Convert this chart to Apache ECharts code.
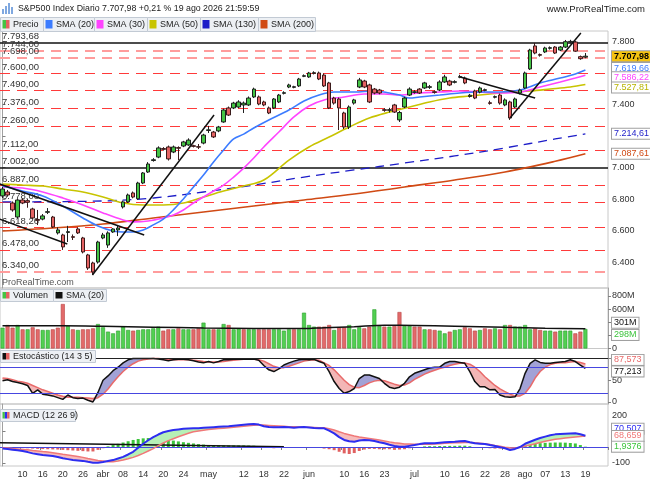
<!DOCTYPE html>
<html><head><meta charset="utf-8">
<script src="https://cdn.jsdelivr.net/npm/echarts@6/dist/echarts.min.js"></script>
<style>html,body{margin:0;padding:0;background:#fff}#c{width:650px;height:483px}</style>
</head><body><div id="c"></div>
<script>
// ---------- DATA ----------
const dates = ['03-04','03-05','03-06','03-09','03-10','03-11','03-12','03-13','03-16','03-17','03-18','03-19','03-20','03-23','03-24','03-25','03-26','03-27','03-30','03-31',
'04-01','04-02','04-06','04-07','04-08','04-09','04-10','04-13','04-14','04-15','04-16','04-17','04-20','04-21','04-22','04-23','04-24','04-27','04-28','04-29','04-30',
'05-01','05-04','05-05','05-06','05-07','05-08','05-11','05-12','05-13','05-14','05-15','05-18','05-19','05-20','05-21','05-22','05-26','05-27','05-28','05-29',
'06-01','06-02','06-03','06-04','06-05','06-08','06-09','06-10','06-11','06-12','06-15','06-16','06-17','06-18','06-22','06-23','06-24','06-25','06-26','06-29','06-30',
'07-01','07-02','07-06','07-07','07-08','07-09','07-10','07-13','07-14','07-15','07-16','07-17','07-20','07-21','07-22','07-23','07-24','07-27','07-28','07-29','07-30','07-31',
'08-03','08-04','08-05','08-06','08-07','08-10','08-11','08-12','08-13','08-14','08-17','08-18','08-19'];
const padDates = ['08-20','08-21','08-24','08-25'];
const xTickDates = ['03-10','03-16','03-20','03-26','04-01','04-08','04-14','04-20','04-24','05-01','05-12','05-18','05-22','06-01','06-10','06-16','06-23','07-01','07-10','07-16','07-22','07-28','08-03','08-07','08-13','08-19'];
const xTickLabels = ['10','16','20','26','abr','08','14','20','24','may','12','18','22','jun','10','16','23','jul','10','16','22','28','ago','07','13','19'];

const opens = [6820,6845,6775,6686,6794,6790,6737,6670,6673,6716, 6686,6585,6572,6588,6561,6610,6553,6445,6394,6400,
6553,6508,6591,6604,6750,6782,6839,6802,6902,6972, 7045,7067,7121,7131,7099,7127,7137,7144,7139,7133,
7156,7236,7226,7233,7290,7379,7379,7385,7398,7398, 7449,7449,7417,7379,7379,7417,7472,7512,7510,7519,
7580,7576,7599,7601,7588,7538,7442,7436,7347,7258, 7410,7512,7550,7525,7499,7493,7368,7364,7398,7303,
7385,7461,7478,7499,7506,7510,7482,7493,7544,7550, 7542,7574,7569,7452,7487,7480,7491,7412,7447,7461,
7398,7417,7385,7474,7506,7627,7773,7718,7735,7758, 7766,7747,7766,7798,7798,7705,7702];
const highs = [6877,6858,6785,6800,6805,6800,6745,6731,6705,6743, 6693,6620,6580,6630,6575,6620,6560,6452,6402,6535,
6585,6595,6615,6635,6790,6835,6848,6910,6972,7035, 7060,7135,7130,7140,7140,7135,7170,7186,7145,7150,
7215,7265,7233,7265,7375,7388,7418,7428,7420,7452, 7508,7458,7425,7388,7442,7468,7485,7533,7520,7570,
7592,7608,7612,7610,7598,7545,7450,7445,7355,7395, 7437,7570,7558,7533,7506,7500,7378,7380,7405,7360,
7450,7510,7492,7505,7545,7525,7490,7555,7590,7558, 7555,7590,7578,7468,7495,7515,7502,7425,7458,7470,
7440,7425,7445,7502,7610,7755,7792,7725,7768,7770, 7772,7772,7811,7812,7805,7712,7728];
const lows = [6807,6815,6720,6678,6768,6745,6672,6635,6665,6705, 6616,6575,6477,6527,6540,6578,6455,6350,6318,6390,
6545,6490,6585,6565,6740,6775,6805,6795,6895,6966, 7038,7060,7108,7045,7092,7048,7130,7138,7128,7118,
7148,7220,7188,7225,7285,7328,7372,7378,7347,7392, 7442,7396,7390,7340,7372,7410,7465,7505,7504,7512,
7575,7570,7592,7556,7512,7372,7400,7239,7245,7245, 7400,7505,7505,7410,7466,7466,7355,7350,7347,7290,
7378,7455,7470,7468,7500,7500,7470,7486,7538,7518, 7535,7568,7530,7445,7435,7472,7485,7400,7440,7400,
7390,7303,7378,7465,7500,7620,7720,7705,7728,7750, 7722,7740,7760,7790,7735,7685,7695];
const closes = [6864,6826,6731,6794,6775,6780,6680,6665,6693,6720, 6623,6604,6496,6593,6557,6585,6464,6362,6337,6527,
6572,6585,6610,6616,6782,6826,6813,6902,6966,7023, 7050,7125,7116,7055,7131,7123,7163,7175,7135,7130,
7207,7240,7195,7258,7366,7334,7410,7417,7410,7442, 7499,7404,7398,7347,7436,7461,7476,7525,7514,7563,
7584,7601,7603,7563,7519,7379,7410,7379,7258,7385, 7430,7557,7512,7417,7474,7474,7364,7368,7353,7350,
7442,7499,7482,7474,7538,7514,7478,7544,7576,7525, 7546,7578,7538,7460,7442,7506,7495,7408,7451,7410,
7430,7315,7436,7493,7601,7747,7728,7714,7760,7762, 7728,7766,7800,7802,7740,7692,7707.98];

const volumes = [317,358,317,358,292,292,323,292,282,282, 292,317,678,343,292,282,292,292,307,373,
323,257,231,272,333,282,272,282,292,292, 307,333,272,292,292,307,292,292,292,307,
394,292,292,292,373,358,292,307,292,292, 292,292,292,292,292,292,272,292,292,292,
546,358,333,333,333,358,282,323,323,358, 292,323,307,333,597,343,333,333,343,556,
343,343,333,333,292,292,282,272,231,257, 282,292,323,307,272,282,307,292,307,292,
358,358,333,333,358,292,307,282,272,272, 257,272,272,272,231,257,298];
const volSma20 = [[0,345],[12,345],[20,338],[30,325],[40,312],[50,305],[60,303],[64,318],[70,333],[76,355],[82,352],[90,340],[100,322],[108,310],[116,301]];

const sma20 = [[0,6883],[4,6851],[8,6820],[12,6756],[16,6680],[19,6629],[22,6597],[24,6591],[26,6591],[28,6604],[30,6636],[32,6673],[34,6731],[36,6801],[38,6877],[40,6953],[42,7036],[44,7112],[46,7182],[48,7213],[50,7252],[53,7303],[57,7366],[60,7423],[63,7461],[66,7480],[70,7480],[74,7487],[77,7474],[79,7461],[81,7442],[83,7449],[87,7461],[91,7474],[95,7480],[99,7480],[103,7493],[107,7538],[111,7569],[114,7595],[116,7619.66]];
const sma30 = [[0,6877],[4,6870],[8,6845],[12,6807],[16,6763],[20,6712],[24,6667],[26,6655],[29,6661],[32,6680],[34,6699],[36,6731],[38,6775],[40,6813],[42,6851],[44,6889],[46,6940],[48,6997],[50,7061],[52,7131],[55,7226],[58,7322],[61,7391],[64,7430],[68,7449],[72,7468],[76,7468],[79,7461],[83,7474],[87,7480],[91,7487],[95,7480],[99,7474],[103,7480],[107,7512],[111,7544],[114,7569],[116,7586.22]];
const sma50 = [[0,6896],[4,6889],[8,6883],[12,6864],[16,6845],[20,6813],[24,6775],[28,6762],[32,6762],[36,6775],[40,6813],[44,6851],[48,6883],[52,6921],[57,7048],[61,7131],[65,7194],[69,7258],[73,7315],[77,7353],[81,7385],[85,7417],[89,7442],[93,7455],[97,7468],[101,7480],[105,7487],[109,7499],[113,7512],[116,7527.81]];
const sma130 = [[0,6782],[20,6788],[30,6807],[40,6845],[50,6889],[60,6940],[70,6985],[80,7029],[90,7074],[100,7125],[110,7182],[116,7214.61]];
const sma200 = [[0,6597],[10,6616],[20,6642],[30,6680],[40,6718],[50,6756],[60,6794],[70,6832],[80,6877],[90,6921],[100,6972],[110,7040],[116,7087.61]];

const stochK = [49,51,47,45,42,38,20,28,18,16, 14,10,6,16,10,8,9,4,0,22, 50,60,72,80,90,97,100,100,100,100,
100,99,97,95,97,98,98,97,95,92, 90,93,90,93,97,97,98,98,98,98, 99,96,84,74,70,76,85,90,94,97, 98,97,98,93,
89,70,47,31,20,24,31,54,62,62, 58,54,43,34,31,34,43,58,66,70, 74,78,80,80,89,93,93,91,89,70,
47,35,35,28,29,16,12,11,12,31, 66,89,97,91,89,89,91,92,93,97, 93,85,77.213];
const stochD = [55,54,51,48,46,43,38,33,28,24, 20,16,13,11,11,11,10,9,8,10, 18,30,45,58,70,80,88,94,97,99,
100,100,99,98,97,97,97,97,96,95, 93,92,92,92,93,95,96,97,98,98, 98,97,94,88,82,79,79,82,86,90, 94,96,97,96,
90,84,74,62,50,40,34,33,38,44, 48,50,49,45,41,38,39,44,52,58, 64,69,73,77,80,84,87,89,90,87,
80,70,58,48,38,30,24,18,14,14, 20,35,55,70,80,86,89,90,90,92, 93,91,87.573];

const macdLine = [-10,-13,-17,-21,-25,-32,-40,-45,-50,-53, -56,-63,-71,-76,-81,-84,-87,-93,-98,-98,
-94,-88,-82,-72,-62,-47,-30,-5,20,42, 62,78,92,100,106,110,114,116,117,118,
120,122,124,126,128,130,133,136,139,142, 144,140,130,125,123,124,125,123,121,123,
125,122,119,118,117,102,85,62,44,36, 33,40,44,42,38,30,23,14,6,2,
2,7,12,18,23,23,23,26,29,31, 33,36,38,30,23,21,19,12,6,-1,
-8,-19,-12,0,20,33,45,56,65,73, 79,81,83,85,86,80,70.507];
const macdSignal = [-4,-7,-10,-12,-15,-18,-22,-25,-29,-32, -36,-41,-46,-50,-55,-60,-65,-72,-78,-84,
-88,-92,-92,-88,-82,-74,-65,-53,-40,-25, -10,8,25,40,52,64,75,86,95,100,
105,109,112,115,118,121,124,127,130,133, 136,137,137,135,133,131,129,127,126,125,
124,123,122,121,121,114,106,95,85,77, 69,63,58,53,48,43,38,32,27,23,
19,18,17,17,17,17,18,20,23,25, 26,27,28,28,27,24,21,16,10,5,
-2,-5,-6,-2,6,13,20,28,36,42, 48,52,56,60,63,66,68.659];
const macdHist = [-3,-5,-6,-6,-7,-8,-10,-12,-13,-14, -15,-16,-18,-20,-22,-24,-26,-28,-28,-18,
-8,4,12,20,28,36,44,50,54,56, 55,52,48,44,40,35,30,26,22,18,
15,12,12,11,10,10,10,10,10,9, 8,4,-4,-6,-8,-6,-5,-5,-5,-4,
-3,-4,-5,-6,-10,-14,-20,-30,-40,-44, -38,-25,-16,-12,-12,-14,-14,-14,-18,-16,
-14,-8,-4,0,4,5,5,6,6,7, 7,8,8,5,-3,-5,-6,-8,-10,-10,
-12,-14,-12,-4,6,14,20,24,26,27, 28,28,27,25,22,12,1.9376];

const priceLevels = [7793.68,7744,7698,7600,7490,7376,7260,7112,7002,6887,6778,6618.26,6478,6340];
const blackLevels = [7793.68,7002];
const paleLevels = [7744,7698,6340];
const trendLines = [
  [[-0.6,6896],[28.2,6572]],
  [[-0.6,6673],[12.9,6515]],
  [[17.9,6318],[42.1,7334]],
  [[91.1,7576],[106,7442]],
  [[101,7315],[115.1,7855]]
];
const macdTrend = [[-0.6,27],[56,2]];
const priceTicks = [6400,6600,6800,7000,7200,7400,7600,7800];
const volTicks = [0,200,400,600,800];
const stochTicks = [0,50,100];
const stochLevels = [20,80];
const macdTicks = [-100,0,100,200];

// ---------- HELPERS ----------
function fmtNum(v, dec){
  let s = v.toFixed(dec); let parts = s.split('.'); let a = parts[0]; const neg = a[0]==='-'; if(neg) a=a.slice(1);
  a = a.replace(/\B(?=(\d{3})+(?!\d))/g,'.');
  return (neg?'-':'') + a + (parts[1]!==undefined ? ','+parts[1] : '');
}
const FONT = 'Liberation Sans, Arial, sans-serif';
const N = dates.length;
const cats = dates.concat(padDates);
const last = N-1;
const tickSet = new Set(xTickDates);
const tickMap = {}; xTickDates.forEach((d,i)=>tickMap[d]=xTickLabels[i]);

function tag(value, text, color, bg, dy, bold){
  return {yAxis:value, lineStyle:{color:'rgba(0,0,0,0)', width:0}, label:{show:true, position:'end', distance:4, formatter:text, color:color,
    backgroundColor:bg||'#fff', borderColor:'#a0a0a0', borderWidth:1, padding:[1,2,0,2], fontSize:9, fontFamily:FONT,
    fontWeight: bold?'bold':'normal', offset:[0,dy||0]}};
}
function tagSeries(xi, yi, items){
  return {type:'line', xAxisIndex:xi, yAxisIndex:yi, data:[], silent:true, z:10,
    markLine:{silent:true, symbol:['none','none'], animation:false, z:10, data:items}};
}
function bands(a, b, id, xi, yi, upC, dnC){
  const base = a.map((v,i)=>Math.min(v,b[i]));
  const u = a.map((v,i)=>Math.max(v-b[i],0));
  const d = a.map((v,i)=>Math.max(b[i]-v,0));
  const c = {type:'line', stack:id, stackStrategy:'all', xAxisIndex:xi, yAxisIndex:yi, symbol:'none', silent:true, lineStyle:{opacity:0}, z:1};
  return [Object.assign({},c,{data:base}), Object.assign({},c,{data:u, areaStyle:{color:upC, opacity:1}}), Object.assign({},c,{data:d, areaStyle:{color:dnC, opacity:1}})];
}

// ---------- LAYOUT ----------
const R = 42;
const grids = [
  {left:0, right:R, top:31, height:257},
  {left:0, right:R, top:288, height:60.5},
  {left:0, right:R, top:348.5, height:55.5},
  {left:0, right:R, top:404, height:62}
].map(g=>Object.assign(g,{show:true, borderColor:'#c8c8c8', borderWidth:1, containLabel:false, outerBoundsMode:'none'}));

const xAxes = [0,1,2,3].map(gi=>({type:'category', gridIndex:gi, data:cats, boundaryGap:true, show: gi===3,
  axisLine:{show:true, lineStyle:{color:'#a0a0a0'}},
  axisTick:{show:true, interval:(i,v)=>tickSet.has(v), length:3, lineStyle:{color:'#808080'}},
  axisLabel:{show:true, interval:(i,v)=>tickSet.has(v), formatter:v=>tickMap[v]||'', fontSize:9, color:'#333', fontFamily:FONT, margin:4},
  splitLine:{show:false}}));
xAxes.push({type:'value', gridIndex:0, min:-0.5, max:N+padDates.length-0.5, show:false});
xAxes.push({type:'value', gridIndex:3, min:-0.5, max:N+padDates.length-0.5, show:false});

function yAx(gi, min, max, ticks, fmt){
  return {type:'value', gridIndex:gi, position:'right', min:min, max:max, scale:true,
    axisLine:{show:true, lineStyle:{color:'#a0a0a0'}},
    axisTick:{show:true, customValues:ticks, length:3, lineStyle:{color:'#808080'}},
    axisLabel:{show:true, customValues:ticks, formatter:fmt, fontSize:9, color:'#333', fontFamily:FONT, margin:4},
    splitLine:{show:false}};
}
const yAxes = [
  yAx(0, 6235, 7868, priceTicks, v=>fmtNum(v,0)),
  yAx(1, 0, 922, volTicks, v=> v===0?'0':v+'M'),
  yAx(2, -4.6, 123, stochTicks, v=>String(v)),
  yAx(3, -119, 269, macdTicks, v=>String(v))
];

// ---------- SERIES ----------
const series = [];
series.push({type:'line', xAxisIndex:0, yAxisIndex:0, data:[], silent:true, z:1,
  markLine:{silent:true, symbol:['none','none'], animation:false, z:1,
    data: priceLevels.map(v=>{
      const black = blackLevels.includes(v), pale = paleLevels.includes(v);
      return {yAxis:v,
        lineStyle: black ? {color:'#111', width:1.5, type:'solid'} : (pale ? {color:'#ff9c9c', width:2, type:[10,7]} : {color:'#ff3a3a', width:1, type:[10,7]}),
        label:{show:true, position:'insideStartTop', distance:[2,1], formatter:fmtNum(v,2), color:'#333', fontSize:9.5, fontFamily:FONT}};
    })}});
const smaDefs = [[sma200,'#d04a14',false],[sma130,'#1c1cc8',true],[sma50,'#c8c400',false],[sma30,'#ff44ff',false],[sma20,'#3c7cff',false]];
smaDefs.forEach(([d,c,dash])=>series.push({type:'line', xAxisIndex:0, yAxisIndex:0, data:d, smooth:0.35, symbol:'none', silent:true, z:2,
  lineStyle:{color:c, width: dash?1.3:1.6, type: dash?[9,6]:'solid'}}));
series.push({type:'candlestick', xAxisIndex:0, yAxisIndex:0, z:3, barWidth:4, silent:true,
  data: opens.map((o,i)=>[o, closes[i], lows[i], highs[i]]),
  itemStyle:{color:'#44c444', color0:'#e46262', borderColor:'#1e1e1e', borderColor0:'#3a1a1a', borderWidth:1}});
trendLines.forEach(t=>series.push({type:'line', xAxisIndex:4, yAxisIndex:0, data:t, symbol:'none', silent:true, z:4, clip:true,
  lineStyle:{color:'#111', width:1.5}}));
series.push(tagSeries(0,0,[
  tag(closes[last], fmtNum(closes[last],2), '#000', '#f5c211', 0, true),
  tag(sma20[sma20.length-1][1], fmtNum(sma20[sma20.length-1][1],2), '#3c7cff', '#fff', -2),
  tag(sma30[sma30.length-1][1], fmtNum(sma30[sma30.length-1][1],2), '#ff44ff', '#fff', 2),
  tag(sma50[sma50.length-1][1], fmtNum(sma50[sma50.length-1][1],2), '#b8b400', '#fff', 3),
  tag(sma130[sma130.length-1][1], fmtNum(sma130[sma130.length-1][1],2), '#1c1cc8', '#fff', 0),
  tag(sma200[sma200.length-1][1], fmtNum(sma200[sma200.length-1][1],2), '#d04a14', '#fff', 0)
]));

series.push({type:'bar', xAxisIndex:1, yAxisIndex:1, barWidth:4, silent:true, z:2,
  data: volumes.map((v,i)=>{
    const upDay = i===0 ? closes[0]>=opens[0] : closes[i]>=closes[i-1];
    return {value:v, itemStyle:{color: upDay?'#52d052':'#e26a6a', borderColor: upDay?'#2e9e2e':'#b84444', borderWidth:0.6}};
  })});
series.push({type:'line', xAxisIndex:1, yAxisIndex:1, data:volSma20, smooth:0.3, symbol:'none', silent:true, z:3, lineStyle:{color:'#111', width:1.5}});
series.push(tagSeries(1,1,[
  tag(volSma20[volSma20.length-1][1], volSma20[volSma20.length-1][1]+'M', '#111', '#fff', -6),
  tag(volumes[last], volumes[last]+'M', '#3cc43c', '#fff', 6)
]));

bands(stochK, stochD, 'st', 2, 2, '#a2a2d6', '#f3b6b6').forEach(s=>series.push(s));
series.push({type:'line', xAxisIndex:2, yAxisIndex:2, data:[], silent:true, z:2,
  markLine:{silent:true, symbol:['none','none'], animation:false, label:{show:false},
    data:[{yAxis:100, lineStyle:{color:'#222', width:1, type:'solid'}}].concat(stochLevels.map(v=>({yAxis:v, lineStyle:{color:'#4646e0', width:1, type:'solid'}})))}});
series.push({type:'line', xAxisIndex:2, yAxisIndex:2, data:stochD, symbol:'none', silent:true, z:3, lineStyle:{color:'#e86a6a', width:1.5}});
series.push({type:'line', xAxisIndex:2, yAxisIndex:2, data:stochK, symbol:'none', silent:true, z:4, lineStyle:{color:'#111', width:1.5}});
series.push(tagSeries(2,2,[
  tag(stochD[last], fmtNum(stochD[last],3), '#e86a6a', '#fff', -4),
  tag(stochK[last], fmtNum(stochK[last],3), '#111', '#fff', 3)
]));

series.push({type:'bar', xAxisIndex:3, yAxisIndex:3, barWidth:3, silent:true, z:1,
  data: macdHist.map(v=>({value:v, itemStyle:{color: v>=0?'#3cc43c':'#e06060'}}))});
bands(macdLine, macdSignal, 'md', 3, 3, '#b6f0b6', '#f6bcbc').forEach(s=>{s.z=2; series.push(s);});
series.push({type:'line', xAxisIndex:3, yAxisIndex:3, data:[], silent:true, z:3,
  markLine:{silent:true, symbol:['none','none'], animation:false, label:{show:false},
    data:[{yAxis:0, lineStyle:{color:'#4646e0', width:1.2, type:'solid'}}]}});
series.push({type:'line', xAxisIndex:5, yAxisIndex:3, data:macdTrend, symbol:'none', silent:true, z:4, lineStyle:{color:'#111', width:1.5}});
series.push({type:'line', xAxisIndex:3, yAxisIndex:3, data:macdSignal, symbol:'none', silent:true, z:5, lineStyle:{color:'#f07878', width:1.5}});
series.push({type:'line', xAxisIndex:3, yAxisIndex:3, data:macdLine, symbol:'none', silent:true, z:6, lineStyle:{color:'#2d2df0', width:2}});
series.push(tagSeries(3,3,[
  tag(macdLine[last], fmtNum(macdLine[last],3), '#2d2df0', '#fff', -7),
  tag(macdSignal[last], fmtNum(macdSignal[last],3), '#f07878', '#fff', 0),
  tag(macdHist[last], fmtNum(macdHist[last],4), '#3cc43c', '#fff', 0)
]));

// ---------- GRAPHICS (header, legends) ----------
const g = [];
function txt(x,y,s,size,fill){ g.push({type:'text', x:x, y:y, style:{text:s, fill:fill||'#222', font:(size||9)+'px '+FONT, textVerticalAlign:'middle'}, silent:true, z:50}); }
function legendBox(x,y,w,h,label,colors){
  g.push({type:'rect', shape:{x:x+0.5,y:y+0.5,width:w,height:h}, style:{fill:'#edf0f4', stroke:'#c2cad4', lineWidth:1}, silent:true, z:40});
  const sw = 7/colors.length;
  colors.forEach((c,i)=>g.push({type:'rect', shape:{x:x+2.5+i*sw, y:y+3, width:sw, height:h-5.5}, style:{fill:c}, silent:true, z:41}));
  txt(x+13, y+h/2+1, label, 9);
}
[[2,9,2,5],[5,6,2,8],[8,3,2,11],[11,7,2,7]].forEach(r=>g.push({type:'rect', shape:{x:r[0],y:r[1],width:r[2],height:r[3]}, style:{fill:'#7fa8e0'}, silent:true}));
txt(18, 9, 'S&P500 Index Diario ' + fmtNum(closes[last],2) + ' +0,21 % 19 ago 2026 21:59:59', 8.8);
g.push({type:'text', right:5, y:4, style:{text:'www.ProRealTime.com', fill:'#222', font:'9.5px '+FONT}, silent:true, z:50});
legendBox(0,17,43,14,'Precio',['#44c444','#e46262']);
legendBox(43,17,51,14,'SMA (20)',['#3c7cff']);
legendBox(94,17,53,14,'SMA (30)',['#ff44ff']);
legendBox(147,17,53,14,'SMA (50)',['#c8c400']);
legendBox(200,17,58,14,'SMA (130)',['#1c1cc8']);
legendBox(258,17,57,14,'SMA (200)',['#d04a14']);
legendBox(0,289,53,12,'Volumen',['#44c444','#e46262']);
legendBox(53,289,53,12,'SMA (20)',['#111']);
legendBox(0,350,95,12,'Estocástico (14 3 5)',['#111','#e46262']);
legendBox(0,409,75,12,'MACD (12 26 9)',['#44c444','#2d2df0','#e46262']);
txt(2, 283, 'ProRealTime.com', 9, '#555');

const chart = echarts.init(document.getElementById('c'), null, {renderer:'canvas'});
chart.setOption({
  animation:false, backgroundColor:'#fff',
  textStyle:{fontFamily:FONT},
  grid:grids, xAxis:xAxes, yAxis:yAxes, series:series, graphic:g
});
</script></body></html>
